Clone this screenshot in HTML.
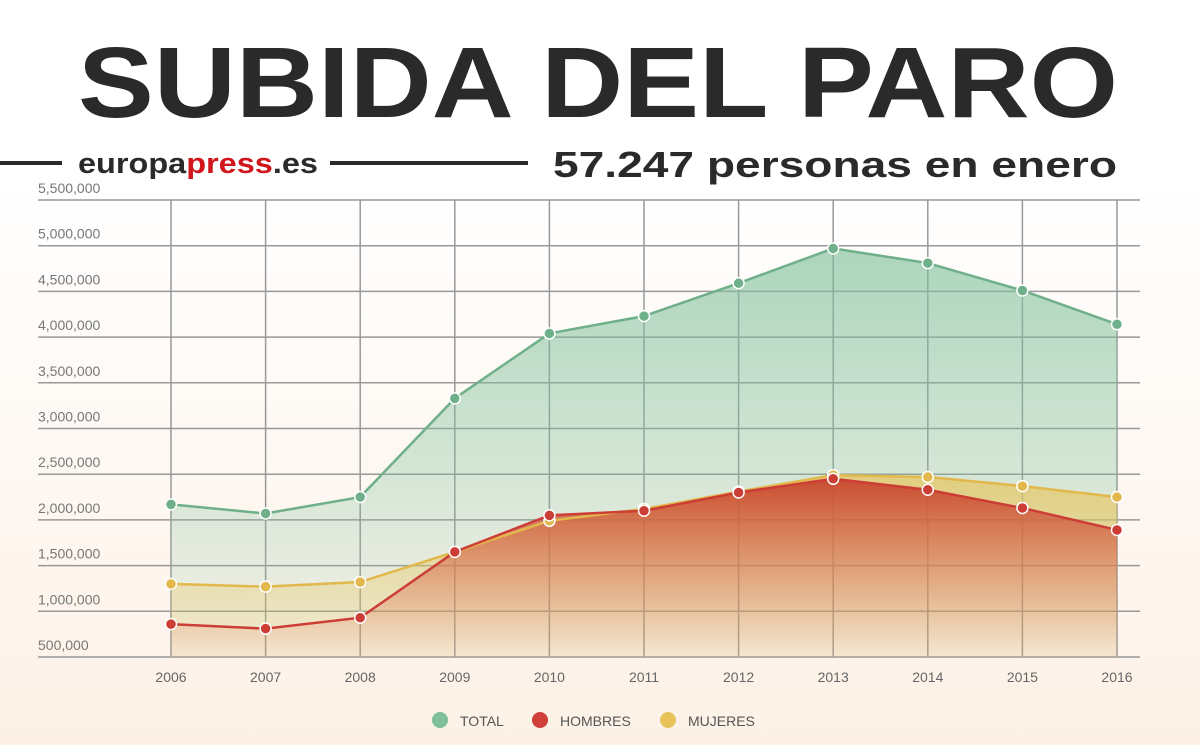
<!DOCTYPE html>
<html><head><meta charset="utf-8"><style>
body{margin:0;width:1200px;height:745px;overflow:hidden;background:linear-gradient(#fff 0px,#fff 180px,#fdf1e6 745px);font-family:"Liberation Sans",sans-serif;}
</style></head><body>
<svg width="1200" height="745" style="position:absolute;left:0;top:0">
<defs>
<linearGradient id="gT" x1="0" y1="0" x2="0" y2="1"><stop offset="0" stop-color="#7fbf9a" stop-opacity="0.65"/><stop offset="1" stop-color="#7fbf9a" stop-opacity="0.05"/></linearGradient>
<linearGradient id="gM" x1="0" y1="0" x2="0" y2="1"><stop offset="0" stop-color="#e6c45a" stop-opacity="0.7"/><stop offset="1" stop-color="#e6c45a" stop-opacity="0.1"/></linearGradient>
<linearGradient id="gH" x1="0" y1="0" x2="0" y2="1"><stop offset="0" stop-color="#c8452e" stop-opacity="0.95"/><stop offset="1" stop-color="#e8805a" stop-opacity="0.05"/></linearGradient>
</defs>
<text x="78" y="117" font-size="100" font-weight="bold" fill="#2a2a2a" textLength="1040" lengthAdjust="spacingAndGlyphs">SUBIDA DEL PARO</text>
<line x1="0" y1="163" x2="62" y2="163" stroke="#2a2a2a" stroke-width="4"/>
<text x="78" y="173" font-size="29" font-weight="bold" fill="#2a2a2a" textLength="240" lengthAdjust="spacingAndGlyphs">europa<tspan fill="#d0161b">press</tspan>.es</text>
<line x1="330" y1="163" x2="528" y2="163" stroke="#2a2a2a" stroke-width="4"/>
<text x="553" y="177" font-size="36" font-weight="bold" fill="#2a2a2a" textLength="564" lengthAdjust="spacingAndGlyphs">57.247 personas en enero</text>
<g id="grid"></g><g id="areas"></g><g id="lines"></g>
<g id="legend">
<circle cx="440" cy="720" r="8" fill="#7fbf9a"/><text x="460" y="726" font-size="14" fill="#555">TOTAL</text>
<circle cx="540" cy="720" r="8" fill="#d0403a"/><text x="560" y="726" font-size="14" fill="#555">HOMBRES</text>
<circle cx="668" cy="720" r="8" fill="#e6c45a"/><text x="688" y="726" font-size="14" fill="#555">MUJERES</text>
</g>
</svg>
<script>
const years=[2006,2007,2008,2009,2010,2011,2012,2013,2014,2015,2016];
const total=[2170000,2070000,2250000,3330000,4040000,4230000,4590000,4970000,4810000,4510000,4140000];
const hombres=[860000,810000,930000,1650000,2050000,2100000,2300000,2450000,2330000,2130000,1890000];
const mujeres=[1300000,1270000,1320000,1650000,1990000,2120000,2310000,2490000,2470000,2370000,2250000];
const yTicks=[500000,1000000,1500000,2000000,2500000,3000000,3500000,4000000,4500000,5000000,5500000];
const NS='http://www.w3.org/2000/svg';
const x=i=>171+i*94.6;
const y=v=>200+(5500000-v)/500000*45.7;
const base=y(500000);
function mk(t,a,p){const e=document.createElementNS(NS,t);for(const k in a)e.setAttribute(k,a[k]);p.appendChild(e);return e;}
const grid=document.getElementById('grid');
yTicks.forEach(v=>{
  const l=mk('line',{x1:38,x2:1140,y1:y(v),y2:y(v),stroke:'#999','stroke-width':1.5},grid);
  
  
  const t=mk('text',{x:38,y:y(v)-7,'font-size':14,fill:'#777'},grid);
  t.textContent=v.toLocaleString('en-US');
  
  
});
years.forEach((yr,i)=>{
  const l=mk('line',{x1:x(i),x2:x(i),y1:y(5500000),y2:base,stroke:'#999','stroke-width':1.5},grid);
  
  
  const t=mk('text',{x:x(i),y:682,'font-size':14,fill:'#666','text-anchor':'middle'},grid);
  t.textContent=yr;
  
  
});
const areas=document.getElementById('areas'),lines=document.getElementById('lines');
function series(arr,fill,stroke,name){
  const pts=arr.map((v,i)=>x(i)+','+y(v)).join(' ');
  const a=mk('polygon',{points:x(0)+','+base+' '+pts+' '+x(arr.length-1)+','+base,fill:fill},areas);
  
  
  const l=mk('polyline',{points:pts,fill:'none',stroke:stroke,'stroke-width':2.5},lines);
  
  
  arr.forEach((v,i)=>{
    const c=mk('circle',{cx:x(i),cy:y(v),r:5.5,fill:stroke,stroke:'#fff','stroke-width':1.5},lines);
    
    
  });
}
series(total,'url(#gT)','#6fb08a','total');
series(mujeres,'url(#gM)','#e2b84c','mujeres');
series(hombres,'url(#gH)','#cc3d35','hombres');
</script>
</body></html>
